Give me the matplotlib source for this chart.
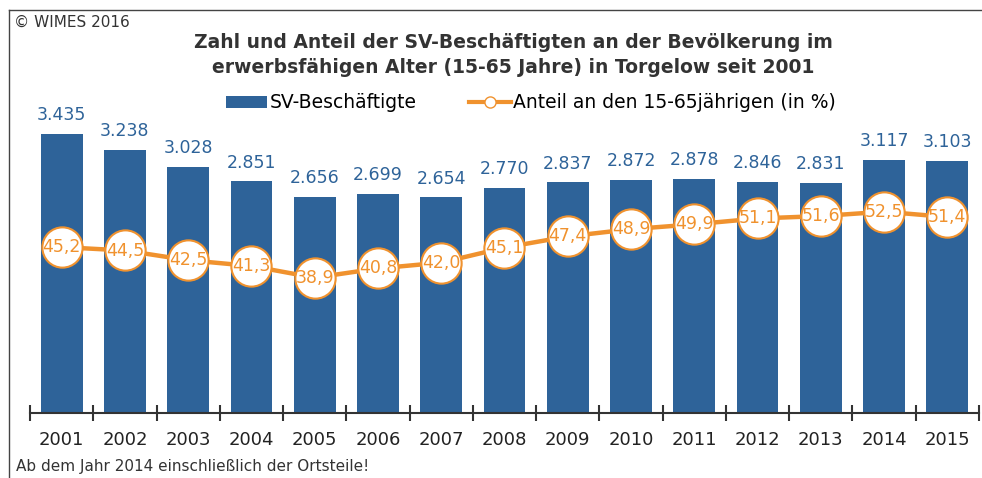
import numpy as np
import matplotlib
matplotlib.use('Agg')
import matplotlib.pyplot as plt
from matplotlib.lines import Line2D
from matplotlib.patches import Patch

matplotlib.rcParams['font.family'] = ['DejaVu Sans']

years = ['2001', '2002', '2003', '2004', '2005', '2006', '2007', '2008',
         '2009', '2010', '2011', '2012', '2013', '2014', '2015']
beschaeftigte = [3435, 3238, 3028, 2851, 2656, 2699, 2654, 2770,
                 2837, 2872, 2878, 2846, 2831, 3117, 3103]
anteil = [45.2, 44.5, 42.5, 41.3, 38.9, 40.8, 42.0, 45.1,
          47.4, 48.9, 49.9, 51.1, 51.6, 52.5, 51.4]

BLUE = '#2e6399'
ORANGE = '#f0922e'
W, H = 982, 478

fig = plt.figure(figsize=(W / 100, H / 100), dpi=100)
ax = fig.add_axes([30 / W, 1 - 413 / H, 949 / W, 325 / H])
x = np.arange(len(years))

# Balken
ax.bar(x, beschaeftigte, width=0.66, color=BLUE, zorder=2)
for xi, v in zip(x, beschaeftigte):
    ax.text(xi, v + 120, f'{v/1000:.3f}', ha='center', va='bottom',
            fontsize=12.5, color=BLUE)
ax.set_xlim(-0.5, len(years) - 0.5)
ax.set_ylim(0, 4000)
ax.set_yticks([])
for s in ['top', 'left', 'right']:
    ax.spines[s].set_visible(False)
ax.spines['bottom'].set_color('#333333')
ax.spines['bottom'].set_linewidth(1.5)
ax.set_xticks(x)
ax.set_xticklabels(years, fontsize=13, color='#222222')
ax.tick_params(axis='x', which='major', length=0, pad=13)
ax.set_xticks(np.arange(-0.5, len(years)), minor=True)
ax.tick_params(axis='x', which='minor', length=12, direction='inout',
               width=1.5, color='#333333')

# Linie (Anteil)
ax2 = ax.twinx()
ax2.plot(x, anteil, color=ORANGE, linewidth=3.2, marker='o', markersize=29,
         markerfacecolor='white', markeredgecolor=ORANGE, markeredgewidth=1.5,
         zorder=3)
for xi, p in zip(x, anteil):
    ax2.text(xi, p, f'{p:.1f}'.replace('.', ','), ha='center', va='center',
             fontsize=12.5, color=ORANGE, zorder=4)
ax2.set_ylim(11, 78)
ax2.set_yticks([])
for s in ['top', 'left', 'right', 'bottom']:
    ax2.spines[s].set_visible(False)

# Titel und Texte
fig.text(513 / W, 1 - 55 / H,
         'Zahl und Anteil der SV-Beschäftigten an der Bevölkerung im\n'
         'erwerbsfähigen Alter (15-65 Jahre) in Torgelow seit 2001',
         ha='center', va='center', fontsize=13.5, fontweight='bold',
         color='#333333', linespacing=1.35)
fig.text(14 / W, 1 - 22 / H, '© WIMES 2016', ha='left', va='center',
         fontsize=11, color='#333333')
fig.text(16 / W, 1 - 466 / H, 'Ab dem Jahr 2014 einschließlich der Ortsteile!',
         ha='left', va='center', fontsize=11, color='#333333')

handles = [Patch(facecolor=BLUE),
           Line2D([0], [0], color=ORANGE, linewidth=3, marker='o', markersize=8,
                  markerfacecolor='white', markeredgecolor=ORANGE)]
fig.legend(handles, ['SV-Beschäftigte', 'Anteil an den 15-65jährigen (in %)'],
           loc='center', bbox_to_anchor=(531 / W, 1 - 103 / H), ncol=2,
           frameon=False, fontsize=13.5, handlelength=2.2, handleheight=0.65,
           handletextpad=0.15, columnspacing=2.8)

# Rahmen
fig.add_artist(Line2D([9 / W, 9 / W], [0, 1 - 10 / H], color='#444444', lw=1))
fig.add_artist(Line2D([9 / W, 1], [1 - 10 / H, 1 - 10 / H], color='#444444', lw=1))

fig.savefig('out.png', dpi=100)
